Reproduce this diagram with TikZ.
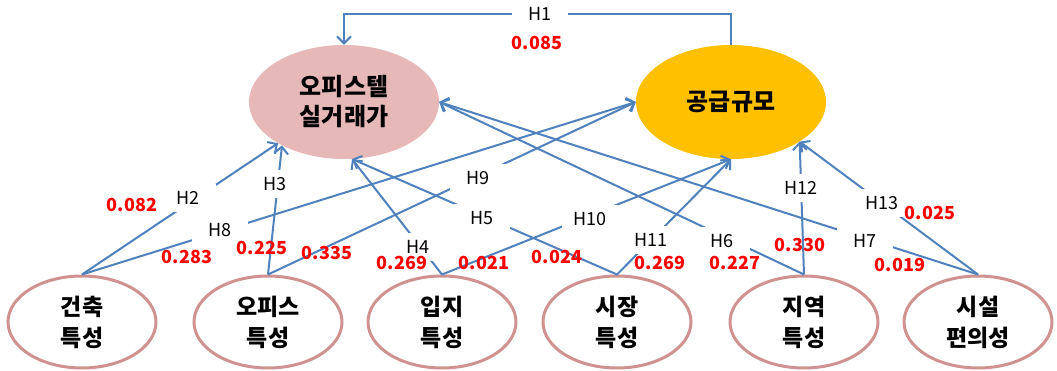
\documentclass[tikz,border=0pt]{standalone}
\usepackage{fontspec}
\setmainfont{Noto Sans CJK KR}
\usetikzlibrary{arrows.meta,shapes.geometric}
\definecolor{lineblue}{RGB}{79,129,189}
\definecolor{pinkfill}{RGB}{230,185,184}
\definecolor{gold}{RGB}{255,192,0}
\definecolor{pinkline}{RGB}{207,146,144}
\definecolor{numred}{RGB}{255,0,0}
\begin{document}
\begin{tikzpicture}[x=1pt,y=-1pt,
 topell/.style={ellipse, inner sep=0pt, minimum width=190pt, minimum height=114pt, align=center, font=\fontsize{24}{30}\selectfont\bfseries},
 botell/.style={ellipse, draw=pinkline, line width=3pt, fill=white, inner sep=0pt, minimum width=148pt, minimum height=92pt, align=center, font=\fontsize{23}{31}\selectfont\bfseries},
 arr/.style={draw=lineblue, line width=2pt, -{Straight Barb[length=7pt,width=14pt]}},
 hyp/.style={fill=white, inner sep=0pt, minimum width=56pt, minimum height=28pt, font=\fontsize{18}{20}\selectfont},
 coef/.style={text=numred, font=\fontsize{18}{20}\selectfont\bfseries, inner sep=0pt}]
\useasboundingbox (0,0) rectangle (1057,371);

% top ellipses
\node[topell, fill=pinkfill] (A) at (344,102) {오피스텔\\실거래가};
\node[topell, fill=gold] (B) at (731,102) {공급규모};

% bottom ellipses
\node[botell] (b1) at (82,322) {건축\\특성};
\node[botell] (b2) at (268,322) {오피스\\특성};
\node[botell] (b3) at (442,322) {입지\\특성};
\node[botell] (b4) at (617,322) {시장\\특성};
\node[botell] (b5) at (804,322) {지역\\특성};
\node[botell] (b6) at (978,322) {시설\\편의성};

% H1
\coordinate (t1) at (540,14);
\draw[arr] (B.north) |- (t1) -| (A.north);

% connectors
\draw[arr] (b1.north) -- (A.212);   % H2
\draw[arr] (b2.north) -- (A.215);   % H3
\draw[arr] (b3.north) -- (A.-82);   % H4
\draw[arr] (b4.north) -- (A.-82);   % H5
\draw[arr] (b5.north) -- (A.east);  % H6
\draw[arr] (b6.north) -- (A.east);  % H7
\draw[arr] (b1.north) -- (B.west);  % H8
\draw[arr] (b2.north) -- (B.west);  % H9
\draw[arr] (b3.north) -- (B.south); % H10
\draw[arr] (b4.north) -- (B.south); % H11
\draw[arr] (b5.north) -- (B.-30);   % H12
\draw[arr] (b6.north) -- (B.-30);   % H13

% hypothesis labels
\node[hyp] (l1) at (t1) {H1};
\node[hyp] (l2) at (188,198) {H2};
\node[hyp] (l3) at (275,184) {H3};
\node[hyp] (l4) at (418,247) {H4};
\node[hyp] (l5) at (482,218) {H5};
\node[hyp] (l6) at (722,241) {H6};
\node[hyp] (l7) at (865,241) {H7};
\node[hyp] (l8) at (220,230) {H8};
\node[hyp] (l9) at (478,178) {H9};
\node[hyp] (l10) at (590,219) {H10};
\node[hyp] (l11) at (651,240) {H11};
\node[hyp] (l12) at (801,188) {H12};
\node[hyp] (l13) at (882,203) {H13};

% coefficients
\node[coef] (c1) at (537,43) {0.085};
\node[coef] (c2) at (132,205) {0.082};
\node[coef] (c8) at (187,257) {0.283};
\node[coef] (c3) at (262,248) {0.225};
\node[coef] (c9) at (327,253) {0.335};
\node[coef] (c4) at (402,263) {0.269};
\node[coef] (c10) at (484,263) {0.021};
\node[coef] (c5) at (557,257) {0.024};
\node[coef] (c11) at (660,263) {0.269};
\node[coef] (c6) at (735,263) {0.227};
\node[coef] (c12) at (800,245) {0.330};
\node[coef] (c7) at (900,265) {0.019};
\node[coef] (c13) at (930,213) {0.025};
\end{tikzpicture}
\end{document}
